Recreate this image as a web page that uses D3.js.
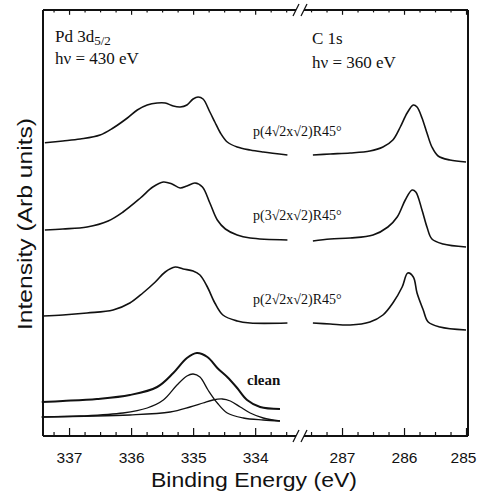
<!DOCTYPE html>
<html>
<head>
<meta charset="utf-8">
<script src="https://cdn.jsdelivr.net/npm/d3@7"></script>
<style>
  html, body { margin: 0; padding: 0; background: #fff; }
  svg { display: block; }
</style>
</head>
<body>
<div id="chart"></div>
<script>
// Pd 3d5/2 spectra, [binding energy (eV), intensity (arb)]
const pd4Spectrum = [[337.39,73.3],[337.10,73.75],[336.82,74.25],[336.50,75.25],[336.29,77.0],[336.06,79.5],[335.90,81.5],[335.74,82.75],[335.58,83.25],[335.45,83.25],[335.32,82.5],[335.21,82.25],[335.10,82.75],[335.00,84.25],[334.92,84.75],[334.84,84.25],[334.73,81.0],[334.65,78.5],[334.56,75.75],[334.45,73.5],[334.29,72.25],[334.08,71.5],[333.87,71.0],[333.48,70.25]];
const pd3Spectrum = [[337.39,51.5],[337.10,51.75],[336.71,52.25],[336.37,53.75],[336.13,56.0],[335.85,59.5],[335.65,62.25],[335.48,63.5],[335.34,63.0],[335.21,62.0],[335.10,62.5],[334.97,63.25],[334.85,62.25],[334.73,58.25],[334.61,54.0],[334.48,51.75],[334.29,50.25],[334.08,49.5],[333.48,49.0]];
const pd2Spectrum = [[337.42,30.0],[337.10,30.25],[336.71,30.75],[336.29,31.5],[336.02,33.25],[335.81,35.75],[335.61,38.5],[335.45,41.0],[335.29,42.25],[335.16,41.75],[335.00,41.25],[334.89,40.25],[334.77,37.25],[334.65,33.25],[334.52,30.25],[334.29,28.75],[334.08,28.25],[333.48,28.25]];
const pdClean = [[337.44,8.5],[337.10,8.75],[336.55,9.25],[336.02,10.25],[335.58,12.25],[335.32,15.75],[335.10,19.5],[334.94,20.75],[334.77,19.75],[334.61,17.0],[334.45,14.75],[334.29,12.0],[334.13,9.0],[333.92,7.25],[333.60,6.75]];
const pdCleanBulk = [[337.44,4.75],[336.82,5.0],[336.13,5.75],[335.74,7.0],[335.48,9.0],[335.26,12.75],[335.10,15.0],[335.00,15.5],[334.89,14.75],[334.76,11.5],[334.61,8.25],[334.45,5.75],[334.19,4.5],[333.87,4.0],[333.60,3.75]];
const pdCleanSurface = [[337.44,4.75],[336.02,5.25],[335.37,6.0],[335.05,7.25],[334.84,8.25],[334.68,9.0],[334.53,9.25],[334.40,8.75],[334.24,7.25],[334.08,5.75],[333.87,4.5],[333.60,3.75]];

// C 1s spectra
const c4Spectrum = [[287.47,70.25],[287.19,70.5],[286.87,70.75],[286.55,71.25],[286.34,72.25],[286.18,74.0],[286.06,77.25],[285.95,80.75],[285.85,82.75],[285.79,82.25],[285.71,79.5],[285.63,75.75],[285.55,72.25],[285.45,70.0],[285.26,69.0],[285.00,68.5]];
const c3Spectrum = [[287.47,48.75],[287.19,49.25],[286.87,49.5],[286.50,50.25],[286.26,52.25],[286.11,54.75],[285.98,59.0],[285.87,61.5],[285.81,61.0],[285.71,56.5],[285.63,52.25],[285.55,49.25],[285.37,48.0],[285.00,47.25]];
const c2Spectrum = [[287.47,28.25],[287.19,28.0],[286.87,27.75],[286.55,28.5],[286.34,30.25],[286.18,33.25],[286.03,37.25],[285.94,40.75],[285.85,39.75],[285.79,35.75],[285.69,31.5],[285.61,28.5],[285.42,27.25],[285.00,26.5]];

const pdMajorTicks = [337, 336, 335, 334];
const cMajorTicks = [287, 286, 285];
const pdMinorTicks = d3.range(337.25, 333.4, -0.25).filter(v => v % 1 !== 0);
const cMinorTicks = d3.range(287.5, 285.1, -0.25).filter(v => v % 1 !== 0);

const spectrumLabels = ["p(4\u221A2x\u221A2)R45\u00B0", "p(3\u221A2x\u221A2)R45\u00B0", "p(2\u221A2x\u221A2)R45\u00B0"];
const spectrumLabelLevels = [74, 53, 32];

const width = 478, height = 499;
const plotLeft = 43, plotRight = 468, plotTop = 10, plotBottom = 436;
const breakX = 300;

const svg = d3.select("#chart").append("svg")
  .attr("width", width)
  .attr("height", height);

const xPd = d3.scaleLinear().domain([337.42, 333.39]).range([plotLeft, 293]);
const xC = d3.scaleLinear().domain([287.565, 284.968]).range([307, plotRight]);
const y = d3.scaleLinear().domain([0, 106.5]).range([plotBottom, plotTop]);

// ticks, bottom (pointing up) and top (pointing down)
const addAxis = (scale, values, size, labels) => {
  const gb = svg.append("g")
    .attr("transform", `translate(0,${plotBottom})`)
    .call(d3.axisBottom(scale).tickValues(values).tickSize(-size).tickPadding(size + 8)
      .tickFormat(labels ? d3.format("d") : ""));
  const gt = svg.append("g")
    .attr("transform", `translate(0,${plotTop})`)
    .call(d3.axisTop(scale).tickValues(values).tickSize(-size * 0.6).tickFormat(""));
  [gb, gt].forEach(g => {
    g.select(".domain").remove();
    g.selectAll("line").attr("stroke", "#111").attr("stroke-width", 1.2);
  });
  gb.selectAll("text")
    .attr("font-family", "'Liberation Sans', Arial, sans-serif")
    .attr("font-size", "15.5px")
    .attr("fill", "#111")
    .attr("dx", d => d === 285 ? -3 : 0);
};
addAxis(xPd, pdMajorTicks, 8, true);
addAxis(xPd, pdMinorTicks, 4, false);
addAxis(xC, cMajorTicks, 8, true);
addAxis(xC, cMinorTicks, 4, false);

// frame with axis break
const frame = svg.append("g").attr("stroke", "#111").attr("fill", "none");
frame.append("line").attr("x1", plotLeft).attr("x2", plotLeft).attr("y1", plotTop).attr("y2", plotBottom).attr("stroke-width", 2);
frame.append("line").attr("x1", plotRight).attr("x2", plotRight).attr("y1", plotTop).attr("y2", plotBottom).attr("stroke-width", 2);
[plotTop, plotBottom].forEach(yy => {
  frame.append("line").attr("x1", plotLeft).attr("x2", breakX - 4).attr("y1", yy).attr("y2", yy).attr("stroke-width", 2);
  frame.append("line").attr("x1", breakX + 4).attr("x2", plotRight).attr("y1", yy).attr("y2", yy).attr("stroke-width", 2);
  [-4, 4].forEach(dx => {
    frame.append("line")
      .attr("x1", breakX + dx - 3).attr("y1", yy + 6)
      .attr("x2", breakX + dx + 3).attr("y2", yy - 6)
      .attr("stroke-width", 1.3);
  });
});

const linePd = d3.line().x(d => xPd(d[0])).y(d => y(d[1])).curve(d3.curveCatmullRom);
const lineC = d3.line().x(d => xC(d[0])).y(d => y(d[1])).curve(d3.curveCatmullRom);

const curves = svg.append("g").attr("fill", "none").attr("stroke", "#111").attr("stroke-linejoin", "round");
[pd4Spectrum, pd3Spectrum, pd2Spectrum].forEach(s => {
  curves.append("path").attr("d", linePd(s)).attr("stroke-width", 1.6);
});
[c4Spectrum, c3Spectrum, c2Spectrum].forEach(s => {
  curves.append("path").attr("d", lineC(s)).attr("stroke-width", 1.6);
});
curves.append("path").attr("d", linePd(pdClean)).attr("stroke-width", 2);
curves.append("path").attr("d", linePd(pdCleanBulk)).attr("stroke-width", 1.3);
curves.append("path").attr("d", linePd(pdCleanSurface)).attr("stroke-width", 1.3);

// text
const serif = "'Liberation Serif', 'Times New Roman', serif";
const sans = "'Liberation Sans', Arial, sans-serif";

const pdTitle = svg.append("text").attr("x", 55).attr("y", 42)
  .attr("font-family", serif).attr("font-size", "17px").attr("fill", "#111");
pdTitle.append("tspan").text("Pd 3d");
pdTitle.append("tspan").attr("font-size", "13px").attr("dy", 3).text("5/2");
svg.append("text").attr("x", 55).attr("y", 64)
  .attr("font-family", serif).attr("font-size", "17px").attr("fill", "#111")
  .text("h\u03BD = 430 eV");
svg.append("text").attr("x", 312).attr("y", 44)
  .attr("font-family", serif).attr("font-size", "17px").attr("fill", "#111")
  .text("C 1s");
svg.append("text").attr("x", 312).attr("y", 68)
  .attr("font-family", serif).attr("font-size", "17px").attr("fill", "#111")
  .text("h\u03BD = 360 eV");

spectrumLabels.forEach((t, i) => {
  svg.append("text")
    .attr("x", 253)
    .attr("y", y(spectrumLabelLevels[i]) - 4)
    .attr("font-family", serif).attr("font-size", "14px").attr("fill", "#111")
    .text(t);
});
svg.append("text").attr("x", 247).attr("y", 385)
  .attr("font-family", serif).attr("font-size", "15px").attr("font-weight", "bold").attr("fill", "#111")
  .text("clean");

svg.append("text")
  .attr("x", 254).attr("y", 487)
  .attr("text-anchor", "middle")
  .attr("font-family", sans).attr("font-size", "21px").attr("fill", "#111")
  .attr("textLength", 206).attr("lengthAdjust", "spacingAndGlyphs")
  .text("Binding Energy (eV)");
svg.append("text")
  .attr("transform", "translate(32,224) rotate(-90)")
  .attr("text-anchor", "middle")
  .attr("font-family", sans).attr("font-size", "21px").attr("fill", "#111")
  .attr("textLength", 212).attr("lengthAdjust", "spacingAndGlyphs")
  .text("Intensity (Arb units)");
</script>
</body>
</html>
